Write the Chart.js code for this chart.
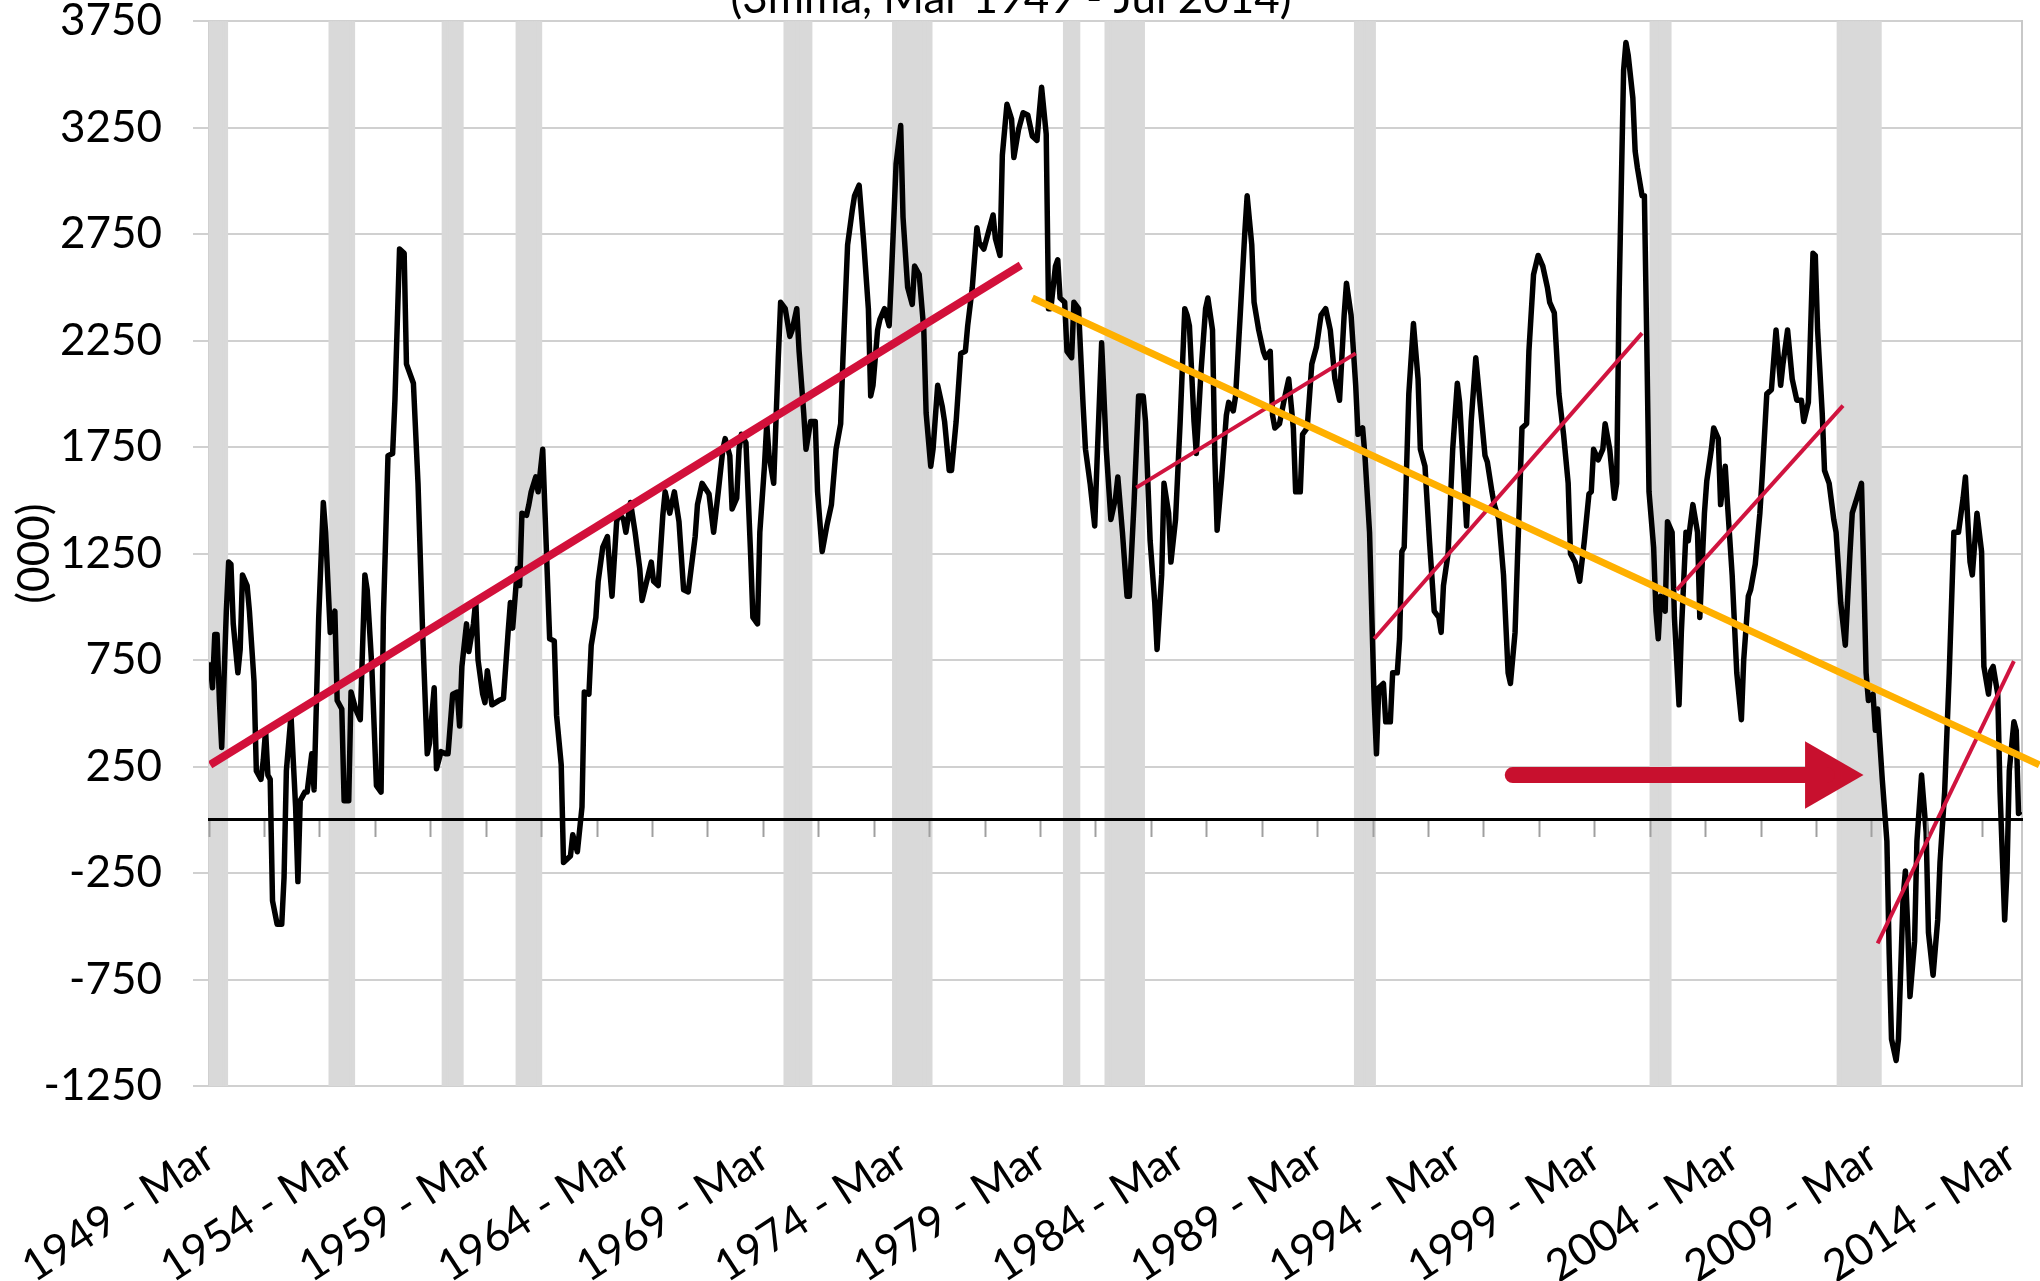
<!DOCTYPE html>
<html lang="en">
<head>
  <meta charset="UTF-8">
  <title>Payrolls change, 3mma, Mar 1949 - Jul 2014</title>
  <script src="https://cdn.jsdelivr.net/npm/chart.js"></script>
  <style>
    html, body { margin: 0; padding: 0; background: #fff; }
    .frame { width: 2040px; height: 1281px; overflow: hidden; position: relative; }
    #chart { position: absolute; left: 0; top: -40px; }
  </style>
</head>
<body>
  <div class="frame"><canvas id="chart" width="2040" height="1321"></canvas></div>

  <script>
    const FONT = 'Lato, "Open Sans", sans-serif';
    const startYear = 1949, startMonth = 3;   // first month of the series

    // x axis: labels every 5 years, small tick marks every 2 years on the zero line
    const xLabelMonths = [0, 60, 120, 180, 240, 300, 360, 420, 480, 540, 600, 660, 720, 780];
    const xTickLabels = ['1949 - Mar', '1954 - Mar', '1959 - Mar', '1964 - Mar', '1969 - Mar', '1974 - Mar', '1979 - Mar',
                         '1984 - Mar', '1989 - Mar', '1994 - Mar', '1999 - Mar', '2004 - Mar', '2009 - Mar', '2014 - Mar'];
    const minorTickStep = 24;
    const lastMonth = 784;   // Jul 2014

    const yTicks = [-1250, -750, -250, 250, 750, 1250, 1750, 2250, 2750, 3250, 3750];

    // recessions (shaded bands)
    const recessionStarts = ['1948-11', '1953-07', '1957-08', '1960-04', '1969-12', '1973-11', '1980-01', '1981-07', '1990-07', '2001-03', '2007-12'];
    const recessionEnds   = ['1949-10', '1954-05', '1958-04', '1961-02', '1970-11', '1975-03', '1980-07', '1982-11', '1991-03', '2001-11', '2009-06'];

    // [months since Mar 1949, value (000)]
    const seriesPoints = [
      [0,740],[1,620],[2,870],[3,870],[4,560],[5,340],[7,980],[8,1210],[9,1200],[10,920],[12,690],[13,800],[14,1150],[16,1100],[17,980],[19,650],
      [20,230],[22,190],[23,280],[24,420],[25,210],[26,190],[27,-380],[29,-490],[31,-490],[32,-270],[33,230],[35,490],[37,60],[38,-290],[39,90],
      [41,130],[42,130],[44,310],[45,140],[47,950],[49,1490],[50,1350],[52,880],[54,980],[55,560],[57,520],[58,90],[60,90],[61,600],[63,520],
      [65,470],[67,1150],[68,1080],[70,720],[72,160],[74,130],[75,950],[77,1710],[79,1720],[80,1970],[82,2680],[84,2660],[85,2140],[88,2050],
      [90,1580],[92,880],[94,310],[95,360],[97,620],[98,240],[100,320],[102,310],[103,310],[105,590],[107,600],[108,440],[109,720],[111,920],
      [112,790],[114,920],[115,1030],[116,750],[118,590],[119,550],[120,700],[122,540],[125,560],[127,570],[129,880],[130,1020],[131,900],
      [133,1180],[134,1100],[135,1440],[137,1430],[138,1480],[139,1540],[141,1610],[142,1540],[144,1740],[145,1440],[147,850],[149,840],
      [150,490],[152,260],[153,-200],[156,-170],[157,-70],[159,-150],[161,60],[162,600],[164,590],[165,820],[167,950],[168,1120],[170,1280],
      [172,1330],[173,1180],[174,1050],[176,1400],[177,1440],[179,1410],[180,1350],[182,1490],[184,1350],[186,1180],[187,1030],[189,1120],
      [191,1210],[192,1120],[194,1100],[196,1430],[197,1540],[199,1440],[201,1540],[203,1400],[205,1080],[207,1070],[210,1330],[211,1480],
      [213,1580],[216,1530],[218,1350],[220,1540],[222,1740],[223,1790],[225,1710],[226,1460],[228,1510],[229,1740],[230,1810],[232,1770],
      [234,1250],[235,950],[237,920],[238,1350],[240,1660],[241,1860],[242,1710],[244,1580],[246,2170],[247,2430],[249,2400],[251,2270],
      [252,2300],[254,2400],[255,2200],[257,1910],[258,1740],[260,1870],[262,1870],[263,1540],[265,1260],[267,1380],[269,1480],[271,1740],
      [273,1860],[274,2170],[276,2700],[278,2860],[279,2930],[281,2980],[283,2710],[285,2400],[286,1990],[287,2040],[289,2300],[290,2350],
      [292,2400],[294,2320],[295,2560],[297,3080],[299,3260],[300,2830],[302,2500],[304,2420],[305,2600],[307,2560],[309,2300],[310,1910],
      [312,1660],[313,1740],[315,2040],[317,1940],[318,1870],[320,1640],[321,1640],[323,1870],[325,2190],[327,2200],[328,2320],[330,2500],
      [332,2780],[333,2710],[335,2680],[337,2760],[339,2840],[340,2730],[342,2650],[343,3120],[345,3360],[347,3290],[348,3110],[350,3240],
      [352,3320],[354,3310],[356,3210],[358,3190],[359,3320],[360,3440],[362,3220],[363,2400],[364,2400],[366,2600],[367,2630],[368,2450],
      [370,2430],[371,2200],[373,2170],[374,2430],[376,2400],[378,1940],[379,1740],[381,1580],[383,1380],[384,1680],[386,2240],[388,1740],
      [390,1410],[392,1510],[393,1610],[395,1350],[397,1050],[398,1050],[400,1480],[402,1990],[404,1990],[405,1870],[407,1310],[409,1020],
      [410,800],[412,1150],[413,1580],[415,1440],[416,1210],[418,1410],[420,1870],[422,2400],[423,2370],[424,2320],[426,1870],[427,1720],
      [429,2100],[431,2400],[432,2450],[434,2300],[435,1710],[436,1360],[438,1610],[440,1900],[441,1960],[443,1920],[444,1990],[446,2370],
      [448,2760],[449,2930],[451,2700],[452,2430],[454,2300],[456,2200],[457,2170],[459,2200],[460,1900],[461,1840],[463,1860],[465,1970],
      [467,2070],[469,1840],[470,1540],[472,1540],[473,1810],[475,1840],[477,2140],[479,2220],[481,2370],[483,2400],[485,2300],[487,2070],
      [489,1970],[491,2370],[492,2520],[494,2370],[496,2040],[497,1810],[499,1840],[500,1710],[502,1350],[504,560],[505,310],[506,620],
      [508,640],[509,460],[511,460],[512,690],[514,690],[515,850],[516,1260],[517,1280],[519,2000],[521,2330],[523,2070],[524,1740],
      [526,1660],[528,1300],[530,980],[532,950],[533,880],[534,1100],[536,1250],[538,1740],[540,2050],[541,1960],[543,1580],[544,1380],
      [546,1870],[548,2170],[550,1940],[552,1710],[553,1680],[555,1540],[556,1480],[558,1410],[560,1150],[562,690],[563,640],[565,880],
      [566,1210],[568,1840],[570,1860],[571,2200],[573,2560],[575,2650],[577,2600],[579,2500],[580,2430],[582,2380],[584,2000],[586,1810],
      [588,1580],[589,1250],[591,1210],[593,1120],[595,1310],[597,1530],[598,1540],[599,1740],[601,1690],[603,1740],[604,1860],[606,1740],
      [608,1510],[609,1580],[610,2430],[612,3520],[613,3650],[614,3590],[616,3390],[617,3140],[618,3060],[620,2930],[621,2930],[622,2270],
      [623,1540],[625,1280],[626,980],[627,850],[628,1050],[630,980],[631,1400],[633,1350],[634,950],[636,540],[637,880],[639,1350],
      [640,1310],[642,1480],[644,1350],[645,950],[647,1440],[648,1590],[650,1740],[651,1840],[653,1790],[654,1480],[656,1660],[657,1480],
      [659,1150],[661,690],[663,470],[664,750],[666,1050],[667,1080],[669,1200],[671,1440],[672,1610],[674,2000],[676,2020],[678,2300],
      [680,2040],[681,2140],[683,2300],[685,2070],[687,1970],[689,1970],[690,1870],[692,1960],[694,2660],[695,2650],[696,2300],[698,1910],
      [699,1640],[701,1580],[703,1410],[704,1350],[706,1020],[708,820],[710,1250],[711,1440],[713,1510],[715,1580],[716,1150],[717,690],
      [718,560],[720,590],[721,420],[722,520],[724,190],[726,-100],[727,-630],[728,-1030],[730,-1130],[731,-1030],[733,-370],[734,-240],
      [735,-500],[736,-830],[738,-570],[739,-100],[741,210],[743,-60],[744,-530],[746,-730],[748,-470],[749,-200],[751,130],[753,690],
      [755,1350],[757,1350],[759,1510],[760,1610],[762,1210],[763,1150],[765,1440],[767,1260],[768,720],[770,590],[771,700],[772,720],
      [774,590],[775,130],[777,-470],[778,-240],[779,230],[781,460],[782,420],[783,30],[784,40]
    ];

    // hand-drawn trend lines and the arrow, in [month, value]
    const longUpTrend = [[0, 258], [351, 2604]];
    const longDownTrend = [[356, 2450], [792, 258]];
    const shortTrends = [
      [[401, 1560], [496, 2190]],
      [[504, 850], [620, 2285]],
      [[635, 1080], [707, 1945]],
      [[722, -580], [781, 745]]
    ];
    const arrowShaft = [[564, 210], [700, 210]];
    const arrowHead = [[699, 210]];

    function monthIndex(s) {
      const [y, m] = s.split('-').map(Number);
      return (y - startYear) * 12 + (m - startMonth);
    }
    const toXY = pts => pts.map(([x, y]) => ({ x, y }));

    const yMin = yTicks[0], yMax = yTicks[yTicks.length - 1];

    const recessionBars = [];
    recessionStarts.forEach((s, k) => {
      const a = Math.max(0, monthIndex(s)), b = monthIndex(recessionEnds[k]);
      for (let m = a; m <= b; m++) recessionBars.push({ x: m, y: [yMin, yMax] });
    });

    const zeroTickMonths = [];
    for (let m = -0.5; m <= lastMonth; m += minorTickStep) zeroTickMonths.push(m);

    const font44 = { family: FONT, size: 44, weight: 'normal' };
    const trendLine = (pts, color, width, order) => ({
      data: toXY(pts), borderColor: color, borderWidth: width, pointRadius: 0, order: order
    });

    new Chart(document.getElementById('chart'), {
      type: 'line',
      data: {
        datasets: [
          { type: 'bar', data: recessionBars, backgroundColor: '#d9d9d9', borderWidth: 0,
            barPercentage: 1, categoryPercentage: 1, inflateAmount: 0.6, order: 10 },
          { data: toXY(seriesPoints), borderColor: '#000', borderWidth: 5.5, pointRadius: 0,
            borderJoinStyle: 'round', order: 5 },
          trendLine(longUpTrend, '#d2103a', 8, 2),
          Object.assign(trendLine(longDownTrend, '#ffb000', 7, 2), { clip: false }),
          ...shortTrends.map(t => trendLine(t, '#d0143f', 4, 3)),
          { data: toXY(arrowShaft), borderColor: '#c8102e', borderWidth: 16, borderCapStyle: 'round',
            pointRadius: 0, order: 1 },
          { data: toXY(arrowHead), showLine: false, pointStyle: 'triangle', pointRotation: 90, pointRadius: 39,
            pointBackgroundColor: '#c8102e', pointBorderWidth: 0, order: 1 }
        ]
      },
      options: {
        responsive: false,
        animation: false,
        events: [],
        // no auto padding: the big arrow head would otherwise shrink the plot
        layout: { autoPadding: false, padding: { top: 0, right: 18, bottom: 0, left: 0 } },
        plugins: {
          legend: { display: false },
          tooltip: { enabled: false },
          title: {
            display: true,
            text: '(3mma, Mar 1949 - Jul 2014)',
            color: '#000',
            font: Object.assign({}, font44, { lineHeight: 0.8 }),
            padding: { top: 21, bottom: 5 }
          }
        },
        scales: {
          x: {
            type: 'linear', position: 'bottom', min: -0.5, max: lastMonth + 0.5,
            offset: false,
            afterBuildTicks: s => { s.ticks = xLabelMonths.map(v => ({ value: v })); },
            afterFit: s => { s.height = 195; s.paddingLeft = 0; s.paddingRight = 0; },
            // tick marks hidden, tickLength only pushes the labels down
            grid: { display: false, offset: false, drawTicks: true, tickLength: 44 },
            border: { display: false },
            ticks: {
              autoSkip: false, minRotation: 33, maxRotation: 33, padding: 0, color: '#000', font: font44,
              callback: (v, i) => xTickLabels[i]
            }
          },
          xZero: {
            type: 'linear', position: { y: 0 }, min: -0.5, max: lastMonth + 0.5,
            offset: false,
            afterBuildTicks: s => { s.ticks = zeroTickMonths.map(v => ({ value: v })); },
            afterFit: s => { s.height = 0; s.paddingLeft = 0; s.paddingRight = 0; },
            ticks: { display: false },
            grid: { drawOnChartArea: false, offset: false, tickLength: 16, tickWidth: 2, tickColor: '#a0a0a0', z: 1 },
            border: { color: '#000', width: 3, z: 1 }
          },
          y: {
            min: yMin, max: yMax,
            afterBuildTicks: s => { s.ticks = yTicks.map(v => ({ value: v })); },
            afterFit: s => { s.width = 209; },
            ticks: { padding: 31, color: '#000', font: font44, callback: v => String(v) },
            grid: { color: '#d0d0d0', lineWidth: 2, tickLength: 16 },
            border: { color: '#d0d0d0', width: 2 },
            title: {
              display: true, text: '(000)', color: '#000',
              font: Object.assign({}, font44, { lineHeight: 1.2 }),
              padding: { top: 8, bottom: 0 }
            }
          },
          yEdge: {
            position: 'right',
            afterFit: s => { s.width = 0; },
            ticks: { display: false },
            grid: { display: false },
            border: { color: '#c8c8c8', width: 2 }
          }
        }
      }
    });
  </script>
</body>
</html>
